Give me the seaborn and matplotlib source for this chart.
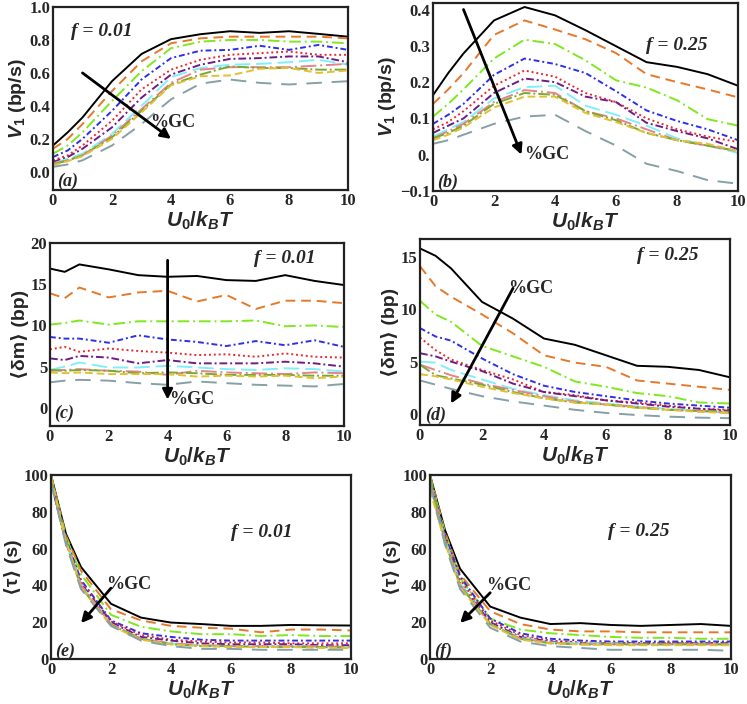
import pandas as pd
import matplotlib
matplotlib.use("Agg")
import matplotlib.pyplot as plt
import seaborn as sns

sns.set_style("white")
plt.rcParams["mathtext.fontset"] = "custom"
plt.rcParams["mathtext.rm"] = "Liberation Sans:bold"
plt.rcParams["mathtext.it"] = "Liberation Sans:bold:italic"
plt.rcParams["mathtext.bf"] = "Liberation Sans:bold"

# barrier heights U0/kBT
u0 = [0, 0.5, 1, 2, 3, 4, 5, 6, 7, 8, 9, 10]

# series, from lowest to highest %GC
series = ["s1", "s2", "s3", "s4", "s5", "s6", "s7", "s8", "s9", "s10", "s11"]
colors = ["#000000", "#E6782A", "#7FE81E", "#2F2FE8", "#E8282E", "#6F1C86",
          "#80F0F8", "#E8828A", "#7BA832", "#E2C034", "#86A0A8"]
dashes = ["", (5, 3), (6, 2, 1, 2), (3, 1.5, 1, 1.5), (1, 1.5), (4, 1.5, 1, 1.5),
          (8, 3), (8, 2, 1, 2), (6, 1.5, 1, 1.5), (4, 2), (8, 5)]

# (a) V1, f = 0.01
v1_a = [
    [0.16, 0.24, 0.33, 0.55, 0.715, 0.805, 0.835, 0.853, 0.843, 0.853, 0.837, 0.82],
    [0.14, 0.20, 0.29, 0.49, 0.67, 0.78, 0.81, 0.82, 0.82, 0.82, 0.82, 0.81],
    [0.11, 0.16, 0.24, 0.43, 0.61, 0.75, 0.79, 0.80, 0.80, 0.79, 0.79, 0.78],
    [0.09, 0.13, 0.20, 0.37, 0.56, 0.69, 0.735, 0.74, 0.765, 0.74, 0.77, 0.74],
    [0.07, 0.10, 0.16, 0.31, 0.50, 0.62, 0.68, 0.71, 0.72, 0.73, 0.71, 0.71],
    [0.06, 0.09, 0.14, 0.27, 0.45, 0.59, 0.65, 0.685, 0.69, 0.70, 0.70, 0.665],
    [0.05, 0.08, 0.11, 0.23, 0.40, 0.575, 0.63, 0.65, 0.655, 0.665, 0.68, 0.65],
    [0.05, 0.07, 0.10, 0.22, 0.38, 0.54, 0.62, 0.635, 0.635, 0.635, 0.645, 0.655],
    [0.045, 0.07, 0.10, 0.21, 0.37, 0.53, 0.59, 0.64, 0.63, 0.63, 0.62, 0.62],
    [0.04, 0.065, 0.095, 0.20, 0.36, 0.525, 0.58, 0.585, 0.625, 0.63, 0.60, 0.615],
    [0.03, 0.045, 0.07, 0.16, 0.29, 0.44, 0.535, 0.56, 0.54, 0.53, 0.54, 0.55],
]
# (b) V1, f = 0.25
v1_b = [
    [0.164, 0.225, 0.279, 0.37, 0.407, 0.384, 0.343, 0.299, 0.255, 0.242, 0.222, 0.19],
    [0.14, 0.18, 0.225, 0.33, 0.37, 0.345, 0.318, 0.28, 0.222, 0.20, 0.18, 0.158],
    [0.105, 0.14, 0.18, 0.265, 0.317, 0.305, 0.26, 0.205, 0.185, 0.15, 0.098, 0.08],
    [0.085, 0.11, 0.14, 0.22, 0.265, 0.25, 0.225, 0.175, 0.122, 0.093, 0.07, 0.04],
    [0.07, 0.09, 0.12, 0.19, 0.232, 0.215, 0.17, 0.145, 0.10, 0.07, 0.05, 0.035],
    [0.06, 0.08, 0.10, 0.17, 0.21, 0.20, 0.16, 0.145, 0.088, 0.065, 0.045, 0.015],
    [0.05, 0.07, 0.09, 0.155, 0.186, 0.19, 0.135, 0.11, 0.08, 0.045, 0.025, 0.005],
    [0.045, 0.065, 0.085, 0.145, 0.178, 0.17, 0.12, 0.10, 0.07, 0.04, 0.025, 0.01],
    [0.045, 0.06, 0.08, 0.14, 0.17, 0.165, 0.12, 0.095, 0.06, 0.04, 0.025, 0.01],
    [0.04, 0.055, 0.075, 0.13, 0.16, 0.16, 0.115, 0.09, 0.06, 0.04, 0.03, 0.01],
    [0.03, 0.04, 0.055, 0.085, 0.105, 0.11, 0.065, 0.025, -0.025, -0.045, -0.07, -0.08],
]
# (c) <dm>, f = 0.01
dm_c = [
    [16.9, 16.5, 17.4, 16.8, 16.1, 15.9, 16.0, 15.5, 15.4, 16.1, 15.4, 14.9],
    [13.9, 13.3, 14.6, 13.4, 14.0, 14.2, 12.9, 13.7, 12.0, 13.0, 13.0, 12.7],
    [10.1, 10.3, 10.6, 10.1, 10.5, 10.5, 10.5, 10.5, 10.6, 9.9, 10.0, 9.8],
    [8.6, 8.4, 8.4, 7.9, 8.8, 8.3, 8.0, 7.5, 8.1, 7.6, 8.2, 7.4],
    [7.1, 7.4, 6.8, 7.2, 6.9, 6.7, 6.4, 6.5, 6.2, 6.6, 6.2, 6.1],
    [6.0, 5.8, 6.3, 6.1, 5.4, 5.8, 5.4, 5.4, 5.4, 5.6, 5.4, 5.0],
    [4.6, 5.0, 5.5, 4.9, 4.9, 5.1, 4.9, 4.7, 4.6, 4.8, 4.7, 4.4],
    [4.5, 4.6, 4.7, 4.5, 4.4, 4.0, 4.5, 4.3, 4.2, 4.1, 4.3, 4.2],
    [4.6, 4.5, 4.6, 4.5, 4.2, 4.3, 4.2, 4.0, 4.0, 4.0, 3.9, 3.9],
    [4.3, 4.2, 4.3, 4.1, 4.1, 4.1, 3.8, 3.9, 3.8, 3.9, 3.6, 3.8],
    [3.1, 3.3, 3.4, 3.3, 3.0, 2.8, 3.2, 3.0, 2.8, 2.7, 2.6, 2.9],
]
# (d) <dm>, f = 0.25
dm_d = [
    [15.8, 15.1, 13.9, 10.7, 9.1, 7.2, 6.6, 5.6, 4.6, 4.5, 4.2, 3.5],
    [14.1, 12.2, 11.2, 9.5, 7.7, 5.6, 4.9, 4.5, 3.2, 2.9, 2.6, 2.3],
    [10.8, 9.5, 8.8, 6.5, 5.5, 4.5, 3.1, 2.6, 2.0, 1.7, 1.1, 1.0],
    [8.2, 7.4, 7.0, 5.3, 3.8, 2.7, 2.1, 1.7, 1.3, 1.0, 0.8, 0.6],
    [7.3, 6.1, 5.2, 4.2, 3.3, 2.1, 1.8, 1.3, 1.1, 0.8, 0.5, 0.4],
    [5.8, 5.5, 5.0, 4.1, 2.9, 2.1, 1.7, 1.3, 1.0, 0.7, 0.5, 0.3],
    [5.0, 4.9, 4.2, 3.3, 2.4, 1.8, 1.3, 1.0, 0.7, 0.5, 0.3, 0.1],
    [4.7, 4.2, 3.7, 2.9, 2.3, 1.7, 1.2, 0.9, 0.7, 0.4, 0.3, 0.1],
    [4.7, 3.7, 3.4, 2.8, 2.1, 1.5, 1.1, 0.9, 0.6, 0.4, 0.3, 0.2],
    [3.8, 3.6, 3.3, 2.6, 2.0, 1.5, 1.1, 0.9, 0.6, 0.4, 0.2, 0.1],
    [3.2, 2.8, 2.4, 1.7, 1.2, 0.8, 0.4, 0.1, -0.1, -0.25, -0.35, -0.4],
]
# (e) <tau>, f = 0.01
tau_e = [
    [100, 68, 50, 30, 22.5, 19.8, 19, 18, 18, 18.5, 18.3, 18.2],
    [100, 67, 48, 27, 21, 18, 17, 16.5, 14.5, 16, 16, 15.5],
    [99, 66, 46, 24, 17.5, 15, 13.5, 13.5, 12.5, 13, 12.5, 12.5],
    [98, 65, 43, 21, 14, 12, 10.5, 10, 10, 10, 10, 10],
    [97, 64, 42, 20.5, 13, 10.5, 9.5, 9, 9, 8.5, 8.5, 8.5],
    [96, 63, 41, 20, 12, 10, 8.5, 8, 8, 8, 7.5, 7.5],
    [97, 64, 40, 19, 11, 8.5, 7.5, 7, 7, 7, 6.5, 6.5],
    [97, 63, 40, 19, 11, 8.5, 7.5, 7, 7, 7, 7, 6.5],
    [98, 64, 39, 18.5, 11, 8, 7, 7, 6.5, 6.5, 6.5, 6],
    [99, 64, 39, 18, 10.5, 8, 7, 6.5, 6.5, 6.5, 6, 6],
    [96, 62, 38, 18, 10, 7, 5.5, 5.5, 5, 5, 5, 5],
]
# (f) <tau>, f = 0.25
tau_f = [
    [100, 70, 49, 28.5, 22.5, 19, 19.5, 18.5, 18, 18.5, 19, 18],
    [100, 69, 46, 26, 19, 16, 15, 15, 14.5, 14.5, 14.5, 14.5],
    [99, 68, 44, 22, 16, 14, 13, 12, 11.5, 11.5, 11, 11],
    [98, 67, 45, 22, 14, 11, 10, 9.5, 9.5, 9.5, 9.5, 9.5],
    [97, 66, 43, 21, 13, 10, 9, 9, 8.5, 9, 8.5, 9],
    [96, 65, 41, 20, 12, 9.5, 8.5, 8.5, 8.5, 8.5, 8.5, 8.5],
    [97, 65, 41, 19, 11.5, 9, 8.5, 8.5, 8, 8, 8, 8],
    [97, 64, 40, 19, 11, 9, 8, 8, 8, 8, 8, 8],
    [98, 64, 40, 19, 11, 8.5, 8, 8, 8, 8, 8, 8],
    [92, 63, 39, 18.5, 10.5, 8.5, 8, 7.5, 7.5, 7.5, 7.5, 7.5],
    [95, 62, 38, 17, 9.5, 7, 6, 5, 5, 5, 5, 4.5],
]


def long_df(values):
    rows = []
    for name, ys in zip(series, values):
        for x, y in zip(u0, ys):
            rows.append({"U0": x, "val": y, "gc": name})
    return pd.DataFrame(rows)


W, H = 747, 704
fig = plt.figure(figsize=(W / 100, H / 100), dpi=100)


def add_ax(left, right, top, bottom):
    return fig.add_axes([left / W, 1 - bottom / H, (right - left) / W, (bottom - top) / H])


tick_font = {"family": "Liberation Serif", "weight": "bold", "size": 12}
ann_font = {"family": "Liberation Serif", "weight": "bold", "style": "italic", "size": 14}
let_font = {"family": "Liberation Serif", "weight": "bold", "style": "italic", "size": 13}
gc_font = {"family": "Liberation Serif", "weight": "bold", "size": 13}

panels = [
    # values, box, ylim, yticks, yticklabels, ylabel, f text pos, f text, arrow (from, to), %GC pos, letter
    (v1_a, (53, 348, 7, 190), (-0.11, 1.0), [0, 0.2, 0.4, 0.6, 0.8, 1.0],
     ["0.0", "0.2", "0.4", "0.6", "0.8", "1.0"], r"$V_1$ (bp/s)",
     (0.6, 0.85), "f = 0.01", ((1.0, 0.6), (4.0, 0.2)), (3.3, 0.3), "(a)", (0.15, -0.06)),
    (v1_b, (433, 738, 3, 191), (-0.1, 0.418), [-0.1, 0, 0.1, 0.2, 0.3, 0.4],
     ["\u22120.1", "0.", "0.1", "0.2", "0.3", "0.4"], r"$V_1$ (bp/s)",
     (7.0, 0.30), "f = 0.25", ((1.0, 0.4), (2.9, 0.0)), (3.0, 0.0), "(b)", (0.15, -0.075)),
    (dm_c, (50, 344, 243, 426), (-2.2, 20), [0, 5, 10, 15, 20],
     ["0", "5", "10", "15", "20"], "\u27e8\u03b4m\u27e9 (bp)",
     (6.95, 18.1), "f = 0.01", ((4.0, 17.9), (4.0, 1.0)), (4.05, 1.0), "(c)", (0.15, -0.7)),
    (dm_d, (420, 730, 239, 425), (-1.05, 16.7), [0, 5, 10, 15],
     ["0", "5", "10", "15"], "\u27e8\u03b4m\u27e9 (bp)",
     (7.0, 15.1), "f = 0.25", ((3.0, 12.0), (1.0, 1.0)), (2.85, 12.0), "(d)", (0.15, -0.1)),
    (tau_e, (51, 351, 475, 659), (0, 100), [0, 20, 40, 60, 80, 100],
     ["0", "20", "40", "60", "80", "100"], "\u27e8\u03c4\u27e9 (s)",
     (6.0, 68.7), "f = 0.01", ((2.0, 38.5), (1.0, 19.5)), (1.85, 40.4), "(e)", (0.15, 4)),
    (tau_f, (430, 731, 475, 659), (0, 100), [0, 20, 40, 60, 80, 100],
     ["0", "20", "40", "60", "80", "100"], "\u27e8\u03c4\u27e9 (s)",
     (5.9, 69.2), "f = 0.25", ((2.0, 36.0), (1.0, 19.6)), (1.85, 39.8), "(f)", (0.15, 4)),
]

for (vals, box, ylim, yticks, yticklabels, ylabel, fpos, ftext, arrow, gcpos,
     letter, lpos) in panels:
    ax = add_ax(*box)
    df = long_df(vals)
    sns.lineplot(data=df, x="U0", y="val", hue="gc", style="gc",
                 palette=colors, dashes=dashes, hue_order=series,
                 style_order=series, linewidth=1.4, legend=False, ax=ax)
    ax.set_xlim(0, 10)
    ax.set_ylim(*ylim)
    ax.set_xticks([0, 2, 4, 6, 8, 10])
    ax.set_xticklabels(["0", "2", "4", "6", "8", "10"], fontdict=tick_font)
    ax.set_yticks(yticks)
    ax.set_yticklabels(yticklabels, fontdict=tick_font)
    ax.tick_params(length=0, pad=2)
    for sp in ax.spines.values():
        sp.set_linewidth(1.6)
        sp.set_color("#222222")
    ax.set_xlabel(r"$U_0/k_BT$", fontsize=15, labelpad=1)
    ax.set_ylabel(ylabel, fontsize=14, fontweight="bold",
                  family=["Liberation Sans", "DejaVu Sans"], labelpad=1)
    ax.text(fpos[0], fpos[1], ftext, fontdict=ann_font, va="center", ha="left")
    ax.annotate("", xy=arrow[1], xytext=arrow[0],
                arrowprops=dict(arrowstyle="-|>", color="black", lw=2.0,
                                mutation_scale=15, shrinkA=0, shrinkB=0))
    ax.text(gcpos[0], gcpos[1], "%GC", fontdict=gc_font, va="center", ha="left")
    ax.text(lpos[0], lpos[1], letter, fontdict=let_font, va="center", ha="left")

fig.savefig("out.png", dpi=100)
